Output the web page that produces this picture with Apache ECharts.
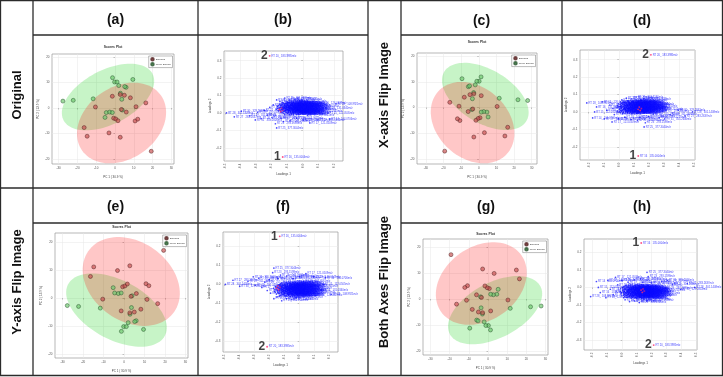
<!DOCTYPE html>
<html lang="en" style="height: 100%">
<head>
<meta charset="utf-8">
<title>Scores / loadings flip comparison</title>
</head>
<body style="height: 100%; margin: 0; background: #fff">
<div id="container" style="width: 723px; height: 377px"></div>

<script type="text/javascript" src="https://cdn.jsdelivr.net/npm/echarts/dist/echarts.min.js"></script>

<script type="text/javascript">
var dom = document.getElementById('container');
var myChart = echarts.init(dom);

// ---- data (a) / (b); the flipped panels reuse it with inverted axes ----
const headers = ['(a)', '(b)', '(c)', '(d)', '(e)', '(f)', '(g)', '(h)'];
const rowTitles = ['Original', 'X-axis Flip Image', 'Y-axis Flip Image', 'Both Axes Flip Image'];
const groupNames = ['Smoking', 'Never Smoker'];

const pcTicks = [-30, -20, -10, 0, 10, 20, 30];
const loadTicksX = [-0.5, -0.4, -0.3, -0.2, -0.1, 0, 0.1, 0.2];
const loadTicksY = [-0.2, -0.1, 0, 0.1, 0.2, 0.3];

// PC1, PC2 scores
const smoking = [
  [-10.4, 0.4], [-1.4, 4.6], [2.8, 5.3], [5.0, 5.0], [8.2, 4.0], [11.2, 0.5], [16.4, 2.0],
  [3.4, -0.6], [6.0, -1.6], [-0.7, -4.0], [0.4, -4.3], [1.6, -5.0], [10.7, -5.1], [12.1, -4.4],
  [-16.4, -7.7], [-14.8, -11.1], [-3.2, -9.8], [2.8, -11.5], [19.3, -17.0]
];
const neverSmoker = [
  [-27.7, 2.7], [-22.2, 3.0], [-11.6, 3.6], [-1.3, 11.9], [-0.2, 10.2], [1.1, 10.2], [2.0, 8.8],
  [9.5, 11.2], [5.9, 8.1], [5.2, 8.4], [2.9, 5.8], [3.6, 3.4], [-4.6, -1.8], [-2.8, -1.6],
  [-1.4, -1.8], [-5.3, -3.7], [3.9, -0.8]
];
// confidence ellipses: centre x, centre y, then two conjugate semi-axis vectors
const smokingEllipse = [3.5, -5.9, 21.0, 10.8, 11.0, -11.6];
const neverEllipse = [-3.7, 4.3, 23.6, 9.2, 6.8, -9.3];

// loadings 1, loadings 2, feature name
const loadings = [
  [-0.132, 0.061, 'RT 21_ 204.1231'], [-0.094, 0.058, 'RT 22_ 311.2086'], [-0.061, 0.062, 'RT 19_ 245.0770'],
  [-0.028, 0.057, 'RT 23_ 160.1322'], [-0.151, 0.051, 'RT 20_ 188.0706'], [-0.114, 0.054, 'RT 24_ 279.1590'],
  [-0.079, 0.049, 'RT 18_ 132.1019'], [-0.047, 0.053, 'RT 21_ 220.1808'], [-0.018, 0.050, 'RT 25_ 341.3049'],
  [0.004, 0.047, 'RT 22_ 199.1693'], [-0.142, 0.044, 'RT 19_ 176.0707'], [-0.119, 0.041, 'RT 26_ 256.2634'],
  [-0.098, 0.046, 'RT 20_ 301.1419'], [-0.068, 0.043, 'RT 23_ 148.0604'], [-0.039, 0.040, 'RT 24_ 214.0910'],
  [-0.009, 0.044, 'RT 17_ 118.0863'], [-0.163, 0.037, 'RT 22_ 267.1965'], [-0.128, 0.034, 'RT 21_ 230.1287'],
  [-0.087, 0.038, 'RT 27_ 365.2319'], [-0.057, 0.035, 'RT 20_ 194.1176'], [-0.031, 0.032, 'RT 18_ 157.0495'],
  [0.008, 0.036, 'RT 25_ 288.2173'], [-0.148, 0.029, 'RT 23_ 241.1128'], [-0.109, 0.027, 'RT 19_ 203.0524'],
  [-0.076, 0.031, 'RT 22_ 329.2506'], [-0.049, 0.026, 'RT 26_ 173.1172'], [-0.021, 0.029, 'RT 21_ 259.1434'],
  [0.012, 0.024, 'RT 24_ 184.0733'], [-0.171, 0.022, 'RT 20_ 226.0951'], [-0.137, 0.019, 'RT 18_ 140.0473'],
  [-0.102, 0.021, 'RT 23_ 297.1746'], [-0.066, 0.018, 'RT 25_ 209.1536'], [-0.036, 0.021, 'RT 19_ 166.0863'],
  [-0.004, 0.016, 'RT 22_ 273.2217'], [-0.156, 0.012, 'RT 27_ 318.2893'], [-0.121, 0.009, 'RT 21_ 190.0863'],
  [-0.084, 0.013, 'RT 24_ 252.2082'], [-0.052, 0.008, 'RT 20_ 145.0501'], [-0.024, 0.011, 'RT 26_ 236.1045'],
  [0.010, 0.006, 'RT 23_ 303.2330'], [-0.133, 0.002, 'RT 19_ 179.0815'], [-0.095, -0.001, 'RT 22_ 218.1387'],
  [-0.062, 0.003, 'RT 25_ 283.1703'], [-0.031, -0.002, 'RT 18_ 127.0502'], [-0.003, 0.001, 'RT 21_ 247.1445'],
  [-0.116, -0.008, 'RT 24_ 196.1329'], [-0.074, -0.006, 'RT 20_ 262.0968'], [-0.041, -0.009, 'RT 23_ 154.0992'],
  [-0.012, -0.005, 'RT 26_ 337.2740'], [-0.105, 0.033, 'RT 22_ 212.1652'], [-0.071, 0.056, 'RT 19_ 187.1332'],
  [-0.045, 0.015, 'RT 25_ 224.0841'], [-0.083, 0.024, 'RT 21_ 292.2009'], [-0.027, 0.045, 'RT 24_ 168.1019'],
  [-0.058, 0.039, 'RT 20_ 206.1172'], [-0.093, 0.006, 'RT 23_ 275.1254'],
  [-0.125, 0.057, 'RT 22_ 233.1101'], [-0.102, 0.052, 'RT 20_ 285.2011'], [-0.086, 0.060, 'RT 23_ 197.0862'],
  [-0.052, 0.047, 'RT 21_ 174.0955'], [-0.036, 0.055, 'RT 24_ 262.1390'], [-0.011, 0.058, 'RT 19_ 150.0552'],
  [-0.158, 0.042, 'RT 25_ 305.2222'], [-0.133, 0.047, 'RT 21_ 221.1182'], [-0.108, 0.039, 'RT 26_ 339.2981'],
  [-0.074, 0.045, 'RT 20_ 192.0899'], [-0.045, 0.036, 'RT 22_ 251.1275'], [-0.016, 0.038, 'RT 18_ 137.0458'],
  [-0.141, 0.033, 'RT 23_ 269.1621'], [-0.118, 0.030, 'RT 19_ 183.0657'], [-0.093, 0.034, 'RT 24_ 313.2504'],
  [-0.064, 0.028, 'RT 21_ 228.1231'], [-0.038, 0.026, 'RT 25_ 295.1808'], [-0.010, 0.031, 'RT 20_ 205.0971'],
  [-0.161, 0.027, 'RT 22_ 243.1593'], [-0.127, 0.024, 'RT 26_ 327.2375'], [-0.094, 0.016, 'RT 18_ 143.0709'],
  [-0.072, 0.023, 'RT 23_ 281.1855'], [-0.056, 0.020, 'RT 20_ 217.1065'], [-0.015, 0.022, 'RT 24_ 259.1746'],
  [-0.146, 0.016, 'RT 21_ 239.1398'], [-0.113, 0.014, 'RT 25_ 299.2012'], [-0.077, 0.009, 'RT 19_ 171.0764'],
  [-0.043, 0.012, 'RT 22_ 249.1492'], [-0.013, 0.009, 'RT 23_ 277.1617'], [0.003, 0.029, 'RT 20_ 213.0881'],
  [-0.141, 0.005, 'RT 24_ 287.2064'], [-0.107, 0.004, 'RT 22_ 235.1332'], [-0.079, 0.001, 'RT 26_ 345.2561'],
  [-0.047, 0.002, 'RT 18_ 149.0599'], [-0.019, 0.004, 'RT 21_ 223.1149'], [-0.124, -0.003, 'RT 20_ 201.1203'],
  [-0.087, -0.009, 'RT 23_ 265.1430'], [-0.058, -0.004, 'RT 25_ 307.1957'], [-0.026, -0.010, 'RT 19_ 159.0788'],
  [-0.099, 0.061, 'RT 21_ 237.1288'], [-0.066, 0.052, 'RT 24_ 271.1919'], [-0.119, 0.048, 'RT 22_ 254.1511'],
  [-0.089, 0.029, 'RT 20_ 211.1027'], [-0.033, 0.016, 'RT 23_ 289.1873'], [-0.062, 0.011, 'RT 19_ 177.0896'],
  [-0.490, 0.000, 'RT 28_ 301.1408'], [-0.440, -0.022, 'RT 27_ 283.2637'], [-0.395, 0.010, 'RT 30_ 329.2843'],
  [-0.340, -0.016, 'RT 29_ 311.2486'], [-0.305, -0.040, 'RT 31_ 355.2606'], [-0.268, -0.033, 'RT 26_ 271.2277'],
  [-0.290, 0.004, 'RT 29_ 297.2430'], [-0.248, 0.016, 'RT 27_ 269.2115'], [-0.228, -0.012, 'RT 25_ 255.1964'],
  [-0.212, 0.032, 'RT 24_ 245.1741'], [-0.198, -0.026, 'RT 28_ 315.1952'], [-0.190, 0.046, 'RT 22_ 231.1364'],
  [-0.176, -0.062, 'RT 23_ 293.1598'], [-0.168, -0.086, 'RT 25_ 377.3044'], [-0.124, -0.049, 'RT 21_ 242.1502'],
  [-0.082, -0.044, 'RT 20_ 208.0979'], [-0.140, -0.030, 'RT 22_ 265.1759'], [-0.040, -0.030, 'RT 19_ 163.0631'],
  [0.002, -0.040, 'RT 18_ 139.0502'], [0.045, -0.057, 'RT 17_ 121.0509'], [-0.168, 0.075, 'RT 26_ 325.1838'],
  [-0.084, 0.076, 'RT 24_ 277.2168'], [-0.147, 0.066, 'RT 23_ 249.1864'], [-0.116, 0.086, 'RT 25_ 301.2166'],
  [-0.050, 0.080, 'RT 22_ 215.1375'], [-0.020, 0.070, 'RT 21_ 189.0915'], [0.213, 0.052, 'RT 28_ 108.9921'],
  [0.148, 0.029, 'RT 16_ 131.0340'], [0.161, 0.000, 'RT 15_ 112.0505'], [0.174, -0.034, 'RT 14_ 104.0706'],
  [0.097, -0.040, 'RT 17_ 146.0449'], [0.060, 0.040, 'RT 19_ 170.0603'], [0.080, 0.010, 'RT 18_ 152.0565'],
  [0.040, 0.020, 'RT 20_ 181.0713'], [0.030, -0.015, 'RT 19_ 167.0561'], [0.110, 0.058, 'RT 16_ 126.0429']
];
// features drawn with red markers inside the cluster
const flaggedLoadings = [
  [-0.150, 0.020, 'RT 22_ 301.1412'], [-0.142, 0.008, 'RT 24_ 263.1587'],
  [-0.136, 0.028, 'RT 21_ 219.1023'], [-0.128, 0.015, 'RT 23_ 287.1976']
];
// the two numbered features
const markedLoadings = [
  [-0.129, -0.253, '1', 'RT 16_ 135.0004'],
  [-0.213, 0.328, '2', 'RT 20_ 183.3985']
];

// ---- layout ----
const FONT = 'Liberation Sans';
const scoresLayout = [
  { left: 52, top: 54, width: 122, height: 110, xMin: -33.5, xMax: 31.4, yMin: -22, yMax: 21.2, flipX: false, flipY: false, titleTop: 46 },
  { left: 417, top: 53, width: 120, height: 111, xMin: -33, xMax: 35, yMin: -22, yMax: 21.2, flipX: true, flipY: false, titleTop: 41 },
  { left: 55, top: 233, width: 133, height: 125, xMin: -33.7, xMax: 31.2, yMin: -23.2, yMax: 21.4, flipX: false, flipY: true, titleTop: 226 },
  { left: 423, top: 239, width: 125, height: 116, xMin: -31.3, xMax: 33.9, yMin: -23, yMax: 21.5, flipX: true, flipY: true, titleTop: 233 }
];
const loadLayout = [
  { left: 224, top: 51, width: 119, height: 110, flipX: false, flipY: false },
  { left: 580, top: 50, width: 115, height: 110, flipX: true, flipY: false },
  { left: 223, top: 232, width: 115, height: 120, flipX: false, flipY: true },
  { left: 584, top: 239, width: 113, height: 111, flipX: true, flipY: true }
];
const loadRange = { xMin: -0.506, xMax: 0.258, yMin: -0.276, yMax: 0.356 };

function ellipseItem(params, api) {
  const cx = api.value(0), cy = api.value(1);
  const ux = api.value(2), uy = api.value(3), vx = api.value(4), vy = api.value(5);
  const pts = [];
  for (let i = 0; i < 96; i++) {
    const t = i / 96 * Math.PI * 2;
    pts.push(api.coord([cx + ux * Math.cos(t) + vx * Math.sin(t), cy + uy * Math.cos(t) + vy * Math.sin(t)]));
  }
  return { type: 'polygon', shape: { points: pts }, style: { fill: api.visual('color') } };
}

function makeAxis(opt) {
  return {
    type: 'value', gridIndex: opt.grid, min: opt.min, max: opt.max, inverse: opt.flip,
    name: opt.name, nameLocation: 'middle', nameGap: opt.nameGap,
    nameTextStyle: { fontSize: 3, color: '#444', fontFamily: FONT },
    axisLine: { show: false },
    axisTick: { show: true, length: 1.5, customValues: opt.ticks, lineStyle: { color: '#888', width: 0.5 } },
    axisLabel: {
      customValues: opt.ticks, fontSize: 3, color: '#555', margin: 2.5, rotate: opt.rotate || 0,
      fontFamily: FONT,
      formatter: function (v) { const s = opt.flip ? -v : v; return opt.digits ? s.toFixed(opt.digits) : String(Math.round(s)); }
    },
    splitLine: { show: true, lineStyle: { color: '#e6e6e6', width: 0.5 } }
  };
}

const grid = [], xAxis = [], yAxis = [], series = [], title = [], legend = [];

scoresLayout.forEach(function (g, i) {
  grid.push({ left: g.left, top: g.top, width: g.width, height: g.height, show: true, borderColor: '#999', borderWidth: 0.7 });
  xAxis.push(makeAxis({ grid: i, min: g.xMin, max: g.xMax, flip: g.flipX, ticks: pcTicks, name: 'PC 1 ( 30.9 %)', nameGap: 12 }));
  yAxis.push(makeAxis({ grid: i, min: g.yMin, max: g.yMax, flip: g.flipY, ticks: pcTicks, name: 'PC 2 ( 13.9 %)', nameGap: 12 }));
  title.push({
    text: 'Scores Plot', left: g.left + g.width / 2, top: g.titleTop, textAlign: 'center', padding: 0,
    textStyle: { fontSize: 3.4, fontWeight: 'bold', color: '#333', fontFamily: FONT }
  });
  legend.push({
    data: groupNames, orient: 'vertical', right: 723 - (g.left + g.width - 1.5), top: g.top + 2,
    itemWidth: 2.5, itemHeight: 2.5, itemGap: 0.6, padding: [1, 1.5], icon: 'circle',
    backgroundColor: '#fff', borderColor: '#555', borderWidth: 0.4,
    textStyle: { fontSize: 2.4, color: '#333', fontFamily: FONT, padding: [0, 0, 0, -3] }
  });
  series.push({ type: 'custom', xAxisIndex: i, yAxisIndex: i, silent: true, data: [neverEllipse], renderItem: ellipseItem, itemStyle: { color: 'rgba(0,205,0,0.22)' }, z: 1 });
  series.push({ type: 'custom', xAxisIndex: i, yAxisIndex: i, silent: true, data: [smokingEllipse], renderItem: ellipseItem, itemStyle: { color: 'rgba(255,0,0,0.22)' }, z: 1 });
  series.push({ name: groupNames[1], type: 'scatter', xAxisIndex: i, yAxisIndex: i, data: neverSmoker, symbolSize: 4, z: 3,
    itemStyle: { color: 'rgba(110,200,110,0.85)', borderColor: '#24502a', borderWidth: 0.6 } });
  series.push({ name: groupNames[0], type: 'scatter', xAxisIndex: i, yAxisIndex: i, data: smoking, symbolSize: 4, z: 3,
    itemStyle: { color: 'rgba(200,80,80,0.85)', borderColor: '#4f2020', borderWidth: 0.6 } });
});

loadLayout.forEach(function (g, k) {
  const i = k + 4;
  grid.push({ left: g.left, top: g.top, width: g.width, height: g.height, show: true, borderColor: '#999', borderWidth: 0.7 });
  xAxis.push(makeAxis({ grid: i, min: loadRange.xMin, max: loadRange.xMax, flip: g.flipX, ticks: loadTicksX, name: 'Loadings 1', nameGap: 12, digits: 1, rotate: 90 }));
  yAxis.push(makeAxis({ grid: i, min: loadRange.yMin, max: loadRange.yMax, flip: g.flipY, ticks: loadTicksY, name: 'Loadings 2', nameGap: 12, digits: 1 }));
  const lbl = { show: true, position: 'right', distance: 0.8, fontSize: 2.7, color: '#0c0cff', fontFamily: FONT };
  series.push({ type: 'scatter', xAxisIndex: i, yAxisIndex: i, silent: true, data: loadings, symbolSize: 1.7, z: 3,
    itemStyle: { color: '#1a1aff' }, label: Object.assign({ formatter: function (p) { return p.data[2] + 'm/z'; } }, lbl) });
  series.push({ type: 'scatter', xAxisIndex: i, yAxisIndex: i, silent: true, data: flaggedLoadings, symbolSize: 1.9, z: 4,
    itemStyle: { color: '#ff2a6a' }, label: Object.assign({ formatter: function (p) { return p.data[2] + 'm/z'; } }, lbl) });
  series.push({ type: 'scatter', xAxisIndex: i, yAxisIndex: i, silent: true, data: markedLoadings, symbolSize: 1.9, z: 4,
    itemStyle: { color: '#ff2a6a' }, label: Object.assign({ formatter: function (p) { return p.data[3] + 'm/z'; } }, lbl) });
  series.push({ type: 'scatter', xAxisIndex: i, yAxisIndex: i, silent: true, data: markedLoadings, symbolSize: 0.1, z: 5,
    itemStyle: { color: 'rgba(0,0,0,0)' },
    label: { show: true, position: 'left', distance: 2, fontSize: 12, fontWeight: 'bold', color: '#111', fontFamily: FONT,
      formatter: function (p) { return p.data[2]; } } });
});

// ---- table frame, headers and row titles ----
const lineCol = '#2b2b2b';
const segs = [
  [0, 0.5, 723, 0.5], [0, 375.5, 723, 375.5], [0, 188, 723, 188],
  [33, 35, 368, 35], [401, 35, 723, 35], [33, 223, 368, 223], [401, 223, 723, 223],
  [0.5, 0, 0.5, 376], [33, 0, 33, 376], [198, 0, 198, 376], [368, 0, 368, 376],
  [401, 0, 401, 376], [562, 0, 562, 376], [722.5, 0, 722.5, 376]
];
const graphic = segs.map(function (s) {
  return { type: 'line', shape: { x1: s[0], y1: s[1], x2: s[2], y2: s[3] }, style: { stroke: lineCol, lineWidth: 1.3 }, silent: true };
});
const headerPos = [[115.5, 20], [283, 20], [481.5, 21], [642, 21], [115.5, 207], [283, 207], [486, 207], [642, 207]];
headers.forEach(function (h, i) {
  graphic.push({ type: 'text', x: headerPos[i][0], y: headerPos[i][1], silent: true,
    style: { text: h, font: 'bold 14px "' + FONT + '"', fill: '#111', align: 'center', verticalAlign: 'middle' } });
});
const rowPos = [[17, 95], [384.5, 95], [17, 282], [384.5, 282]];
rowTitles.forEach(function (t, i) {
  graphic.push({ type: 'text', x: rowPos[i][0], y: rowPos[i][1], rotation: Math.PI / 2, silent: true,
    style: { text: t, font: 'bold 13px "' + FONT + '"', fill: '#111', align: 'center', verticalAlign: 'middle' } });
});

const option = {
  animation: false,
  backgroundColor: '#fff',
  title: title,
  legend: legend,
  grid: grid,
  xAxis: xAxis,
  yAxis: yAxis,
  series: series,
  graphic: graphic
};

if (option && typeof option === 'object') {
  myChart.setOption(option);
}

window.addEventListener('resize', myChart.resize);
</script>
</body>
</html>
